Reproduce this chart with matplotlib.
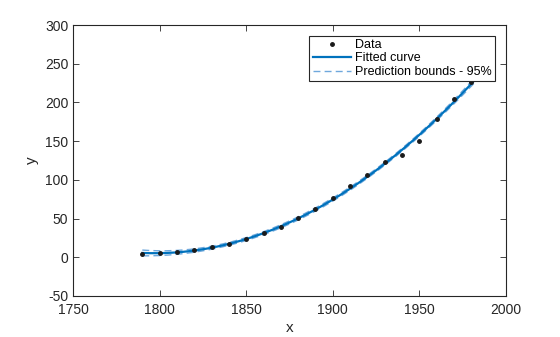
import numpy as np
import matplotlib
matplotlib.use("Agg")
import matplotlib.pyplot as plt

plt.rcParams['font.family'] = ['Liberation Sans', 'DejaVu Sans']
plt.rcParams['axes.unicode_minus'] = False

# US census population (millions)
years = np.array([1790, 1800, 1810, 1820, 1830, 1840, 1850, 1860, 1870, 1880,
                  1890, 1900, 1910, 1920, 1930, 1940, 1950, 1960, 1970, 1980, 1990])
population = np.array([3.9, 5.3, 7.2, 9.6, 12.9, 17.1, 23.1, 31.4, 38.6, 50.2,
                       62.9, 76.0, 92.0, 105.7, 122.8, 131.7, 150.7, 179.0, 205.0,
                       226.5, 248.7])

# Quadratic least-squares fit on centred/scaled x
mu, sd = years.mean(), years.std(ddof=1)
z = (years - mu) / sd
X = np.vander(z, 3)
coef, *_ = np.linalg.lstsq(X, population, rcond=None)
resid = population - X @ coef
dof = len(years) - 3
s = np.sqrt(resid @ resid / dof)
XtX_inv = np.linalg.inv(X.T @ X)
t_crit = 2.1009  # Student t, 0.975 quantile, 18 dof

xg = np.linspace(years.min(), years.max(), 300)
Zg = np.vander((xg - mu) / sd, 3)
yfit = Zg @ coef
# 95% bounds on the fitted function
half = t_crit * s * np.sqrt(np.einsum('ij,jk,ik->i', Zg, XtX_inv, Zg))

fig = plt.figure(figsize=(5.6, 3.37), dpi=100)
ax = fig.add_axes([0.1304, 0.1217, 0.7732, 0.8041])

ax.plot(years, population, '.', color='#1a1a1a', markersize=5, label='Data', zorder=3)
ax.plot(xg, yfit, '-', color='#0072BD', linewidth=1.6, label='Fitted curve', zorder=2)
ax.plot(xg, yfit + half, '--', color='#6FA8DC', linewidth=1,
        dashes=(5, 3), label='Prediction bounds - 95%', zorder=1)
ax.plot(xg, yfit - half, '--', color='#6FA8DC', linewidth=1, dashes=(5, 3), zorder=1)

ax.set_xlim(1750, 2000)
ax.set_ylim(-50, 300)
ax.set_xticks(np.arange(1750, 2001, 50))
ax.set_yticks(np.arange(-50, 301, 50))
ax.tick_params(direction='in', top=True, right=True, length=4, width=0.6,
               labelsize=10, colors='#262626')
ax.tick_params(axis='x', pad=5)
for sp in ax.spines.values():
    sp.set_linewidth(0.8)
    sp.set_color('#262626')
ax.set_xlabel('x', fontsize=11, color='#262626', labelpad=3)
ax.set_ylabel('y', fontsize=11, color='#262626')

leg = ax.legend(loc='upper right', bbox_to_anchor=(0.9745, 0.96), fontsize=9,
                frameon=True, fancybox=False, framealpha=1, edgecolor='#262626',
                borderpad=0.25, labelspacing=0.12, handlelength=3.1,
                handletextpad=0.3, borderaxespad=0)
leg.get_frame().set_linewidth(0.8)
leg.set_zorder(5)

fig.savefig('out.png', dpi=100)
